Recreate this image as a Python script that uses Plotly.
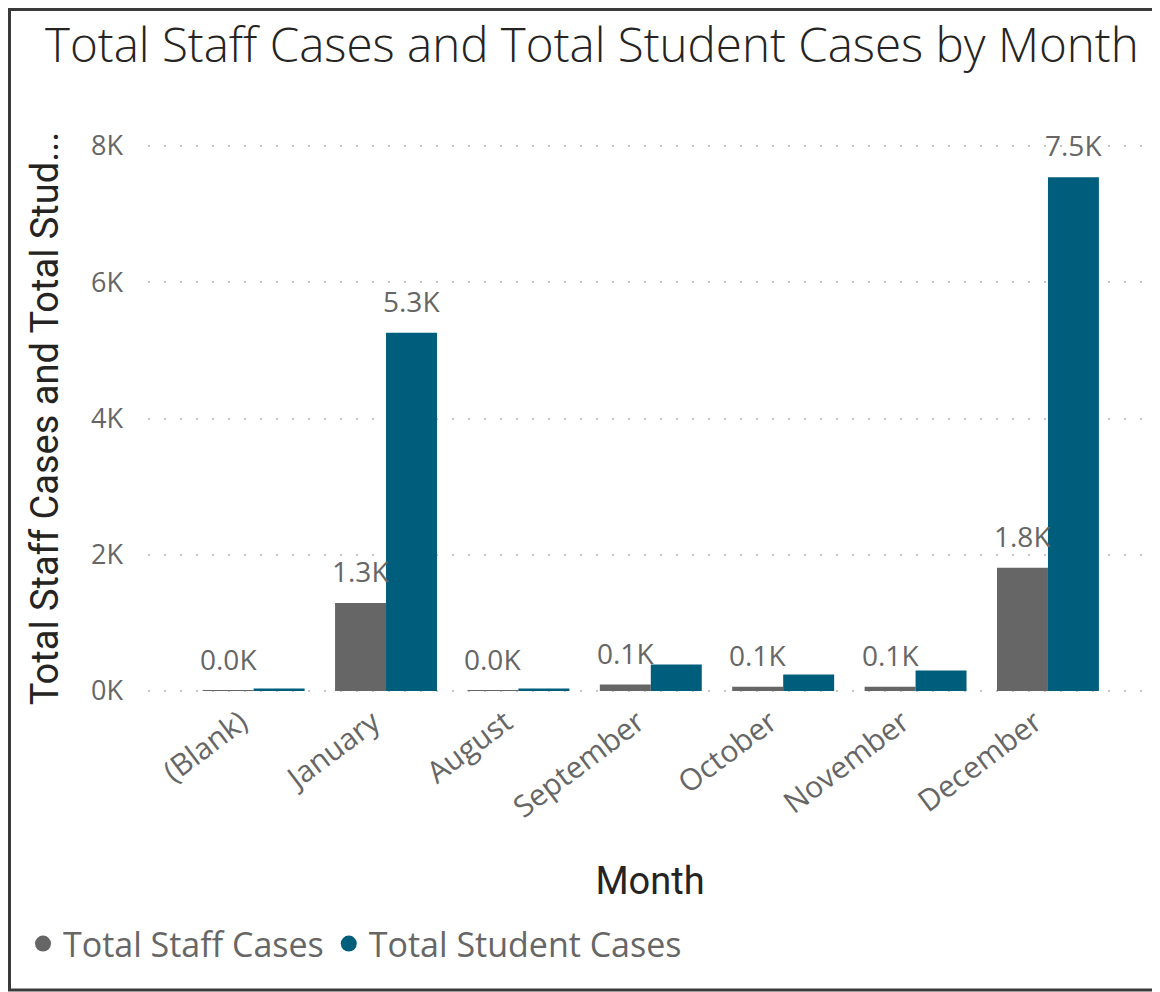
import plotly.graph_objects as go

# ---- data ----
months = ["(Blank)", "January", "August", "September", "October", "November", "December"]
staff_cases = [5, 1290, 3, 95, 63, 63, 1810]
student_cases = [35, 5260, 35, 390, 243, 300, 7540]
student_label_shown = [False, True, False, False, False, False, True]
y_tick_vals = [0, 2000, 4000, 6000, 8000]
y_tick_text = ["0K", "2K", "4K", "6K", "8K"]

STAFF_COLOR = "#666666"
STUDENT_COLOR = "#005E7D"
LABEL_COLOR = "#666666"
TITLE_COLOR = "#252423"

# page body has an 8px margin: compensate so that positions match the target picture
OFF = 8
W, H = 1160 - OFF, 992 - OFF
PX_PER_UNIT = (691 - 146) / 8000.0
Y_MIN, Y_MAX = -15, 8015
plot_top = 146 - (Y_MAX - 8000) * PX_PER_UNIT - OFF
plot_bottom = 691 + (0 - Y_MIN) * PX_PER_UNIT - OFF
X_MIN, X_MAX = -0.798, 6.786
L, R = 148 - OFF, W - (1152 - OFF)
T, B = plot_top, H - plot_bottom
plot_w = W - L - R
plot_h = H - T - B


def fmt_k(v):
    return f"{v / 1000:.1f}K"


fig = go.Figure()
fig.add_trace(go.Bar(name="Total Staff Cases", x=months, y=staff_cases,
                     marker=dict(color=STAFF_COLOR, line=dict(width=0)),
                     showlegend=False, hoverinfo="x+y"))
fig.add_trace(go.Bar(name="Total Student Cases", x=months, y=student_cases,
                     marker=dict(color=STUDENT_COLOR, line=dict(width=0)),
                     showlegend=False, hoverinfo="x+y"))
# legend entries with round markers (Power BI style)
for nm, col in [("Total Staff Cases", STAFF_COLOR), ("Total Student Cases", STUDENT_COLOR)]:
    fig.add_trace(go.Scatter(x=[None], y=[None], mode="markers", name=nm,
                             marker=dict(color=col, size=22, symbol="circle")))

# data labels
cat_w = plot_w / (X_MAX - X_MIN)
half = cat_w * (1 - 0.23) / 4
label_font = dict(family="Open Sans", size=28, color=LABEL_COLOR)
annotations = []
for m, v in zip(months, staff_cases):
    annotations.append(dict(x=m, y=v, xref="x", yref="y", text=fmt_k(v), showarrow=False,
                            xshift=-half, yshift=11, yanchor="bottom", font=label_font))
for m, v, show in zip(months, student_cases, student_label_shown):
    if show:
        annotations.append(dict(x=m, y=v, xref="x", yref="y", text=fmt_k(v), showarrow=False,
                                xshift=half, yshift=11, yanchor="bottom", font=label_font))

# frame (left, top, bottom edges; the right edge lies outside the picture)
bx0 = (1.5 - L) / plot_w
bx1 = (W + 40 - L) / plot_w
by0 = (plot_bottom - (990 - OFF)) / plot_h
by1 = (plot_bottom - 1.5) / plot_h
frame_path = f"M {bx1},{by1} L {bx0},{by1} L {bx0},{by0} L {bx1},{by0}"

fig.update_layout(
    width=W, height=H,
    margin=dict(l=L, r=R, t=T, b=B, autoexpand=False),
    paper_bgcolor="white", plot_bgcolor="white",
    barmode="group", bargap=0.23, bargroupgap=0,
    title=dict(text="Total Staff Cases and Total Student Cases by Month",
               x=(45 - OFF) / W, xanchor="left", xref="container",
               y=1 - (45 - OFF) / H, yanchor="middle", yref="container",
               font=dict(family="Open Sans", size=47.5, color=TITLE_COLOR, weight=300)),
    xaxis=dict(type="category", range=[X_MIN, X_MAX], tickangle=-37,
               tickfont=dict(family="Open Sans", size=30, color=LABEL_COLOR),
               ticklabelshift=-13, ticklabelstandoff=6,
               showgrid=False, zeroline=False, showline=False, ticks="",
               title=dict(text="Month", standoff=42,
                          font=dict(family="Roboto", size=38, color=TITLE_COLOR))),
    yaxis=dict(range=[Y_MIN, Y_MAX], tickvals=y_tick_vals, ticktext=y_tick_text,
               tickfont=dict(family="Open Sans", size=27, color=LABEL_COLOR),
               showgrid=True, gridcolor="#C8C6C4", gridwidth=1.5, griddash="2px,14px",
               zeroline=False, showline=False, ticks="", ticklabelstandoff=24,
               title=dict(text="Total Staff Cases and Total Stud...", standoff=20,
                          font=dict(family="Roboto", size=38, color=TITLE_COLOR))),
    legend=dict(orientation="h", x=(23 - OFF - L) / plot_w, xanchor="left",
                y=(plot_bottom - (944 - OFF)) / plot_h, yanchor="middle",
                font=dict(family="Open Sans", size=34, color=LABEL_COLOR),
                itemsizing="trace", bgcolor="rgba(0,0,0,0)"),
    annotations=annotations,
    shapes=[dict(type="path", xref="paper", yref="paper", path=frame_path,
                 line=dict(color="#3A3A3A", width=3), layer="below")],
)

fig.write_html("out.html")
